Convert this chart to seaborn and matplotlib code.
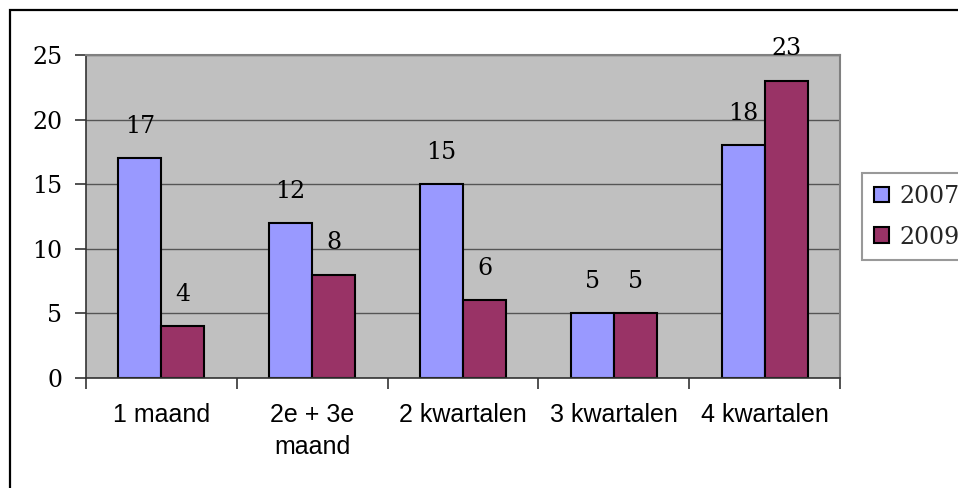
import matplotlib
matplotlib.use("Agg")
import matplotlib.pyplot as plt
from matplotlib.patches import Patch, Rectangle
from matplotlib.ticker import FixedLocator, MultipleLocator
import numpy as np
import pandas as pd
import seaborn as sns

# Data
categories = ["1 maand", "2e + 3e\nmaand", "2 kwartalen", "3 kwartalen", "4 kwartalen"]
years = ["2007", "2009"]
values_2007 = [17, 12, 15, 5, 18]
values_2009 = [4, 8, 6, 5, 23]
colors = ["#9999FF", "#993366"]

df = pd.DataFrame({
    "categorie": categories * 2,
    "jaar": [years[0]] * len(categories) + [years[1]] * len(categories),
    "aantal": values_2007 + values_2009,
})

sns.set_theme(style="white")
serif = ["DejaVu Serif"]
sans = ["Liberation Sans", "DejaVu Sans"]
num_size = 17

fig = plt.figure(figsize=(9.58, 4.88), dpi=100)
ax = fig.add_axes([86 / 958, 1 - 378 / 488, (840 - 86) / 958, (378 - 55) / 488])
ax.set_facecolor("#C0C0C0")

sns.barplot(data=df, x="categorie", y="aantal", hue="jaar", order=categories,
            hue_order=years, palette=colors, width=0.57, gap=0,
            edgecolor="black", linewidth=1.5, saturation=1, legend=False, ax=ax)

ax.set_xlim(-0.5, len(categories) - 0.5)
ax.set_ylim(0, 25)
ax.yaxis.set_major_locator(MultipleLocator(5))
ax.grid(axis="y", color="#555555", linewidth=1)
ax.set_axisbelow(True)
ax.set_xlabel("")
ax.set_ylabel("")

# Value labels above every bar
for container in ax.containers:
    for bar in container:
        h = bar.get_height()
        ax.annotate(f"{h:g}", xy=(bar.get_x() + bar.get_width() / 2, h),
                    xytext=(0, 23), textcoords="offset points",
                    ha="center", va="center", fontsize=num_size, family=serif,
                    color="black", annotation_clip=False)

# Axes frame
for side in ["top", "right"]:
    ax.spines[side].set_color("#808080")
    ax.spines[side].set_linewidth(1.5)
for side in ["left", "bottom"]:
    ax.spines[side].set_color("#333333")
    ax.spines[side].set_linewidth(1.2)

# Y ticks
ax.tick_params(axis="y", which="major", direction="out", length=8, width=1.2,
               color="#333333", pad=9, left=True)
for lbl in ax.get_yticklabels():
    lbl.set_family(serif)
    lbl.set_fontsize(num_size)
    lbl.set_color("black")

# X ticks: marks on category boundaries, labels at centers
ax.set_xticks(range(len(categories)))
ax.set_xticklabels(categories, fontsize=18, family=sans, color="black",
                   linespacing=1.4, va="top")
ax.tick_params(axis="x", which="major", length=0, pad=18)
ax.xaxis.set_minor_locator(FixedLocator(np.arange(-0.5, len(categories), 1.0)))
ax.tick_params(axis="x", which="minor", direction="out", length=8, width=1.2,
               color="#333333", bottom=True)

# Legend
handles = [Patch(facecolor=c, edgecolor="black", linewidth=1.5, label=y)
           for c, y in zip(colors, years)]
leg = fig.legend(handles=handles, loc="upper left",
                 bbox_to_anchor=(862 / 958, 1 - 173 / 488),
                 bbox_transform=fig.transFigure, borderaxespad=0,
                 prop={"family": serif, "size": num_size}, frameon=True,
                 fancybox=False, shadow=False, handlelength=0.65,
                 handleheight=0.65, handletextpad=0.45, labelspacing=0.75,
                 borderpad=0.5)
leg.get_frame().set_edgecolor("#808080")
leg.get_frame().set_linewidth(1.5)
leg.get_frame().set_facecolor("white")

# Outer chart border
fig.patches.append(Rectangle((9.5 / 958, -0.1), 1.2, 1.1 - 9.5 / 488,
                             transform=fig.transFigure, fill=False,
                             edgecolor="black", linewidth=1.6, zorder=0))

fig.savefig("out.png", dpi=100)
